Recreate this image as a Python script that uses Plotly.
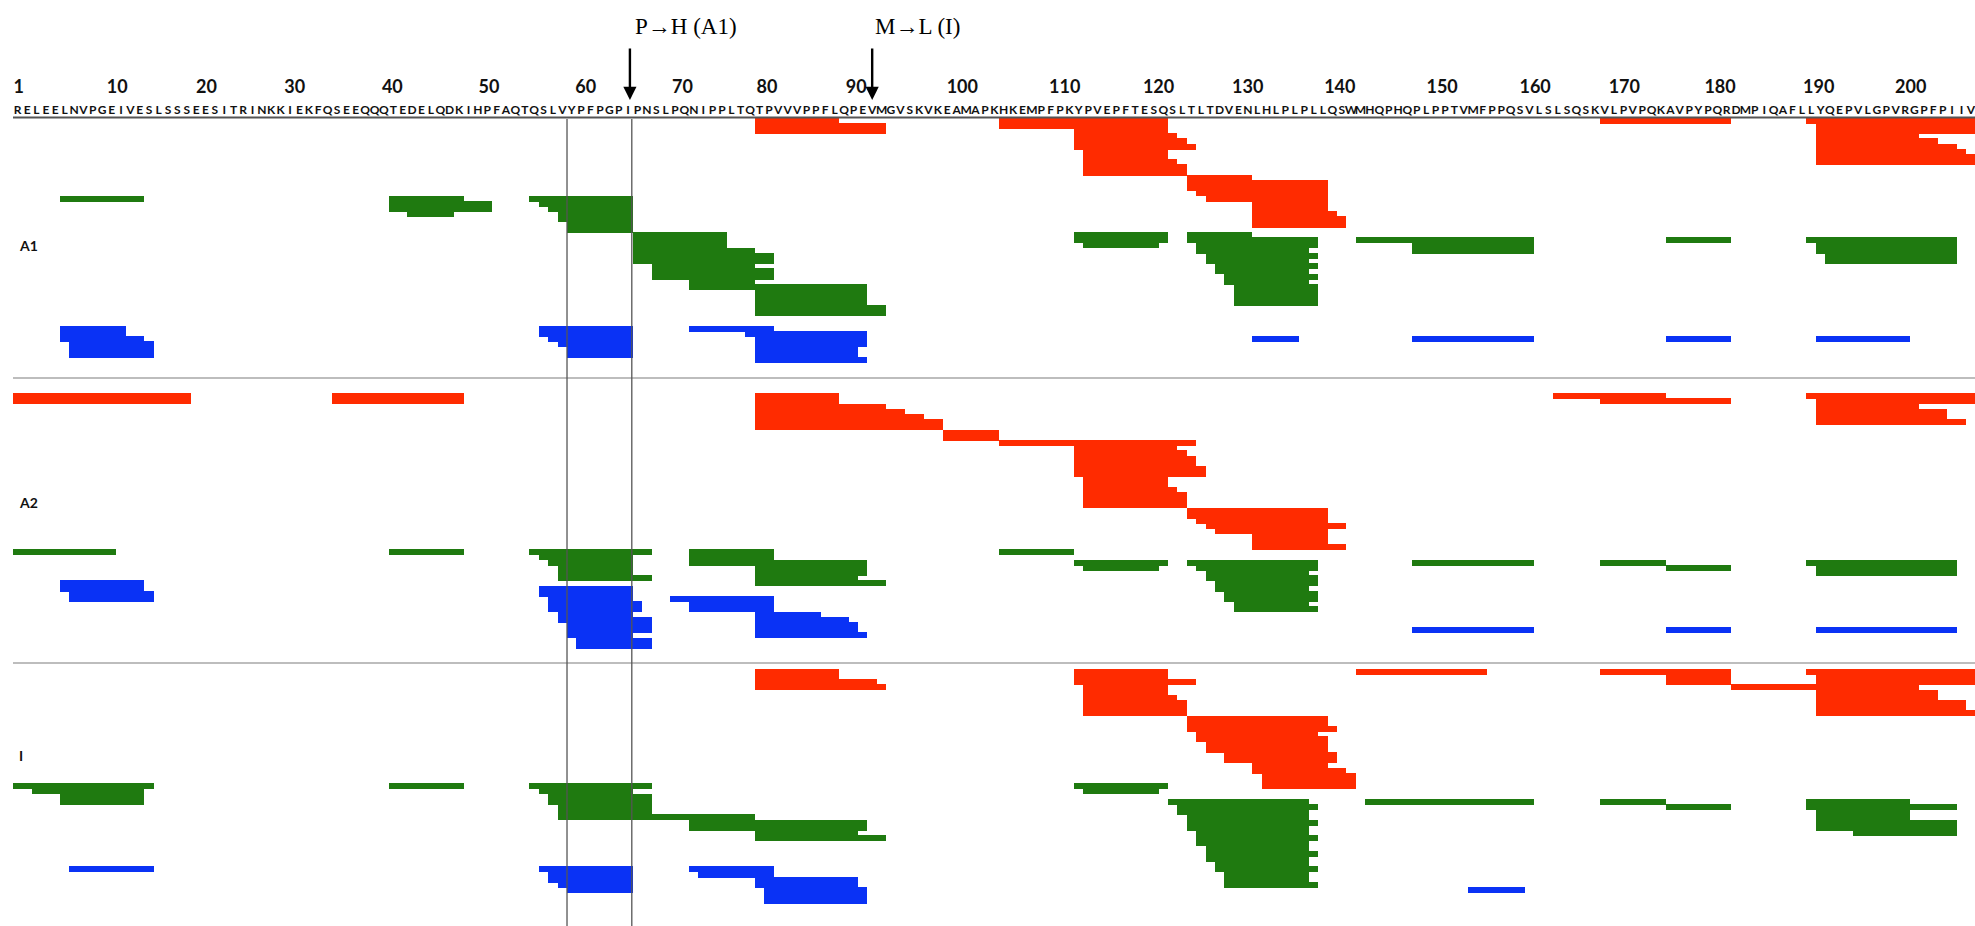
import plotly.graph_objects as go

# ---------------- data ----------------
SEQUENCE = ("RELEELNVPGEIVESLSSSEESITRINKKIEKFQSEEQQQTEDELQDKIHPFAQTQSLVY"
            "PFPGPIPNSLPQNIPPLTQTPVVVPPFLQPEVMGVSKVKEAMAPKHKEMPFPKYPVEPFT"
            "ESQSLTLTDVENLHLPLPLLQSWMHQPHQPLPPTVMFPPQSVLSLSQSKVLPVPQKAVPY"
            "PQRDMPIQAFLLYQEPVLGPVRGPFPIIV")

TICK_LABELS = [1, 10, 20, 30, 40, 50, 60, 70, 80, 90, 100, 110, 120, 130,
               140, 150, 160, 170, 180, 190, 200]
TICK_POS = [1.1, 11.6, 21.1, 30.5, 40.9, 51.2, 61.5, 71.8, 80.8, 90.3, 101.6,
            112.5, 122.5, 132.0, 141.8, 152.7, 162.6, 172.1, 182.3, 192.8, 202.6]

MUTATION_TEXT = ["P<b>\u2192</b>H (A1)", "M<b>\u2192</b>L (I)"]
MUTATION_RESIDUE = [67, 93]

PANELS = ["A1", "A2", "I"]

# peptides: (start residue, end residue, track row)
A1_RED = [
    (80, 88, 0), (80, 93, 1), (80, 93, 2),
    (106, 123, 0), (106, 123, 1),
    (114, 123, 2), (114, 124, 3), (114, 125, 4), (114, 126, 5),
    (115, 123, 6), (115, 123, 7), (115, 124, 8), (115, 125, 9), (115, 125, 10),
    (126, 132, 11), (126, 140, 12), (126, 140, 13), (127, 140, 14), (128, 140, 15),
    (133, 140, 16), (133, 140, 17), (133, 141, 18), (133, 142, 19), (133, 142, 20),
    (170, 183, 0),
    (192, 209, 0), (193, 209, 1), (193, 209, 2), (193, 203, 3), (193, 205, 4),
    (193, 207, 5), (193, 208, 6), (193, 209, 7), (193, 209, 8),
]
A1_GREEN = [
    (6, 14, 15),
    (41, 48, 15), (41, 51, 16), (41, 51, 17), (43, 47, 18),
    (56, 66, 15), (57, 66, 16), (58, 66, 17), (59, 66, 18), (59, 66, 19),
    (60, 66, 20), (60, 66, 21),
    (67, 76, 22), (67, 76, 23), (67, 76, 24), (67, 79, 25), (67, 81, 26), (67, 81, 27),
    (69, 79, 28), (69, 81, 29), (69, 81, 30), (73, 79, 31), (73, 91, 32),
    (80, 91, 33), (80, 91, 34), (80, 91, 35), (80, 93, 36), (80, 93, 37),
    (114, 123, 22), (114, 123, 23), (115, 122, 24),
    (126, 132, 22), (126, 139, 23), (127, 139, 24), (127, 138, 25), (128, 139, 26),
    (128, 138, 27), (129, 139, 28), (129, 138, 29), (130, 139, 30), (130, 138, 31),
    (131, 139, 32), (131, 139, 33), (131, 139, 34), (131, 139, 35),
    (144, 162, 23), (150, 162, 24), (150, 162, 25),
    (177, 183, 23),
    (192, 207, 23), (193, 207, 24), (193, 207, 25), (194, 207, 26), (194, 207, 27),
]
A1_BLUE = [
    (6, 12, 40), (6, 12, 41), (6, 14, 42), (7, 15, 43), (7, 15, 44), (7, 15, 45),
    (57, 66, 40), (57, 66, 41), (58, 66, 42), (59, 66, 43), (60, 66, 44), (60, 66, 45),
    (73, 81, 40), (79, 91, 41), (80, 91, 42), (80, 91, 43), (80, 90, 44),
    (80, 90, 45), (80, 91, 46),
    (133, 137, 42), (150, 162, 42), (177, 183, 42), (193, 202, 42),
]

A2_RED = [
    (1, 19, 53), (1, 19, 54), (35, 48, 53), (35, 48, 54),
    (80, 88, 53), (80, 88, 54), (80, 93, 55), (80, 95, 56), (80, 97, 57),
    (80, 99, 58), (80, 99, 59), (100, 105, 60), (100, 105, 61), (106, 126, 62),
    (114, 124, 63), (114, 125, 64), (114, 126, 65), (114, 126, 66), (114, 127, 67),
    (114, 127, 68), (115, 123, 69), (115, 123, 70), (115, 124, 71), (115, 125, 72),
    (115, 125, 73), (115, 125, 74),
    (126, 140, 75), (126, 140, 76), (127, 140, 77), (128, 142, 78), (129, 140, 79),
    (133, 140, 80), (133, 140, 81), (133, 142, 82),
    (165, 176, 53), (170, 183, 54),
    (192, 209, 53), (193, 209, 54), (193, 203, 55), (193, 206, 56), (193, 206, 57),
    (193, 208, 58),
]
A2_GREEN = [
    (1, 11, 83), (41, 48, 83),
    (56, 68, 83), (57, 66, 84), (58, 66, 85), (59, 66, 86), (59, 66, 87), (59, 68, 88),
    (73, 81, 83), (73, 81, 84), (73, 81, 85), (80, 91, 85), (80, 91, 86), (80, 91, 87),
    (80, 90, 88), (80, 93, 89),
    (106, 113, 83), (114, 123, 85), (115, 122, 86),
    (126, 139, 85), (127, 139, 86), (128, 138, 87), (128, 139, 88), (129, 139, 89),
    (129, 138, 90), (130, 139, 91), (130, 139, 92), (131, 138, 93), (131, 139, 94),
    (150, 162, 85), (170, 176, 85), (177, 183, 86),
    (192, 207, 85), (193, 207, 86), (193, 207, 87),
]
A2_BLUE = [
    (6, 14, 89), (6, 14, 90), (7, 15, 91), (7, 15, 92),
    (57, 66, 90), (57, 66, 91), (58, 66, 92), (58, 67, 93), (58, 67, 94), (59, 66, 95),
    (59, 68, 96), (60, 68, 97), (60, 68, 98), (60, 66, 99), (61, 68, 100), (61, 68, 101),
    (71, 81, 92), (73, 81, 93), (73, 81, 94), (80, 86, 95), (80, 89, 96),
    (80, 90, 97), (80, 90, 98), (80, 91, 99),
    (150, 162, 98), (177, 183, 98), (193, 207, 98),
]

I_RED = [
    (80, 88, 106), (80, 88, 107), (80, 92, 108), (80, 93, 109),
    (114, 123, 106), (114, 123, 107), (114, 126, 108), (115, 123, 109), (115, 123, 110),
    (115, 124, 111), (115, 125, 112), (115, 125, 113), (115, 125, 114),
    (126, 140, 115), (126, 140, 116), (126, 141, 117), (127, 139, 118), (127, 140, 119),
    (128, 140, 120), (128, 140, 121), (130, 141, 122), (130, 141, 123), (133, 140, 124),
    (133, 142, 125), (134, 143, 126), (134, 143, 127), (134, 143, 128),
    (144, 157, 106),
    (170, 183, 106), (177, 183, 107), (177, 183, 108), (184, 192, 109),
    (192, 209, 106), (193, 209, 107), (193, 209, 108), (193, 203, 109), (193, 205, 110),
    (193, 205, 111), (193, 208, 112), (193, 208, 113), (193, 209, 114),
]
I_GREEN = [
    (1, 15, 128), (3, 14, 129), (6, 14, 130), (6, 14, 131),
    (41, 48, 128),
    (56, 68, 128), (57, 66, 129), (58, 68, 130), (58, 68, 131), (59, 68, 132),
    (59, 68, 133), (59, 79, 134), (73, 91, 135), (73, 91, 136), (80, 90, 137),
    (80, 93, 138),
    (114, 123, 128), (115, 122, 129),
    (124, 138, 131), (125, 139, 132), (125, 138, 133), (126, 138, 134), (126, 139, 135),
    (126, 138, 136), (127, 138, 137), (127, 139, 138), (127, 138, 139), (128, 138, 140),
    (128, 139, 141), (128, 138, 142), (129, 138, 143), (129, 139, 144), (130, 138, 145),
    (130, 138, 146), (130, 139, 147),
    (145, 162, 131), (170, 176, 131), (177, 183, 132),
    (192, 202, 131), (192, 207, 132), (193, 202, 133), (193, 202, 134),
    (193, 207, 135), (193, 207, 136), (197, 207, 137),
]
I_BLUE = [
    (7, 15, 144),
    (57, 66, 144), (58, 66, 145), (58, 66, 146), (59, 66, 147), (60, 66, 148),
    (73, 81, 144), (74, 81, 145), (80, 90, 146), (80, 90, 147), (81, 91, 148),
    (81, 91, 149), (81, 91, 150),
    (156, 161, 148),
]

PANEL_LABEL_ROW = [24.6, 74.0, 122.6]
SEPARATOR_ROWS = [50.0, 104.8]
MARKER_BOUNDS = [59.5, 66.4]
ARROW_X = [66.2, 92.0]
MUT_TEXT_X = [72.2, 96.8]

# ---------------- styling / geometry ----------------
W, H = 1975, 926
PX0, PXW = 8.3, 9.39          # pixel = PX0 + PXW * residue
Y0, RH = 118.0, 5.2           # pixel = Y0 + RH * row
RED, GREEN, BLUE = "#FF2B00", "#1F7A10", "#0A32F5"
BAR_W = 1.15

x_range = [(0 - PX0) / PXW, (W - PX0) / PXW]
y_range = [(H - Y0) / RH, (0 - Y0) / RH]


def row_of(px):
    return (px - Y0) / RH


fig = go.Figure()


def add_peps(peps, color):
    fig.add_trace(go.Bar(
        orientation="h",
        y=[r + 0.5 for s, e, r in peps],
        x=[e - s + 1 for s, e, r in peps],
        base=[s - 0.5 for s, e, r in peps],
        width=BAR_W,
        marker=dict(color=color, line=dict(width=0)),
        hoverinfo="skip",
        showlegend=False,
    ))


for peps, col in [(A1_RED, RED), (A1_GREEN, GREEN), (A1_BLUE, BLUE),
                  (A2_RED, RED), (A2_GREEN, GREEN), (A2_BLUE, BLUE),
                  (I_RED, RED), (I_GREEN, GREEN), (I_BLUE, BLUE)]:
    add_peps(peps, col)

# sequence letters
fig.add_trace(go.Scatter(
    x=list(range(1, len(SEQUENCE) + 1)),
    y=[row_of(111)] * len(SEQUENCE),
    mode="text", text=list(SEQUENCE),
    textfont=dict(family="Lato", size=12, color="#111111", weight="bold"),
    hoverinfo="skip", showlegend=False,
))
# residue numbers
fig.add_trace(go.Scatter(
    x=TICK_POS, y=[row_of(88)] * len(TICK_POS),
    mode="text", text=[str(t) for t in TICK_LABELS],
    textfont=dict(family="Lato", size=18, color="#111111", weight="bold"),
    hoverinfo="skip", showlegend=False,
))

shapes = []
# underline under the sequence
shapes.append(dict(type="line", xref="x", yref="y", x0=0.5, x1=x_range[1],
                   y0=row_of(117.5), y1=row_of(117.5),
                   line=dict(color="#555555", width=2)))
# panel separators
for r in SEPARATOR_ROWS:
    shapes.append(dict(type="line", xref="x", yref="y", x0=0.5, x1=x_range[1],
                       y0=r, y1=r, line=dict(color="#BDBDBD", width=2)))
# vertical marker lines
for xb in MARKER_BOUNDS:
    shapes.append(dict(type="line", xref="x", yref="y", x0=xb, x1=xb,
                       y0=row_of(119), y1=y_range[0],
                       line=dict(color="#555555", width=1.3)))

annotations = []
for txt, xt in zip(MUTATION_TEXT, MUT_TEXT_X):
    annotations.append(dict(x=xt, y=1 - 26 / H, xref="x", yref="paper",
                            text=txt, showarrow=False, xanchor="center", yanchor="middle",
                            font=dict(family="Liberation Serif", size=23, color="black")))
for xa in ARROW_X:
    annotations.append(dict(x=xa, y=row_of(100), xref="x", yref="y", text="",
                            showarrow=True, ax=0, ay=-53, arrowhead=2, arrowsize=1.1,
                            arrowwidth=2.4, arrowcolor="black"))
for lab, r in zip(PANELS, PANEL_LABEL_ROW):
    annotations.append(dict(x=(17 - PX0) / PXW, y=r, xref="x", yref="y", text=lab,
                            showarrow=False, xanchor="left", yanchor="middle",
                            font=dict(family="Lato", size=14, color="#111111", weight="bold")))

fig.update_layout(
    width=W, height=H,
    margin=dict(l=0, r=0, t=0, b=0),
    paper_bgcolor="white", plot_bgcolor="white",
    barmode="overlay", bargap=0,
    xaxis=dict(range=x_range, visible=False, fixedrange=True),
    yaxis=dict(range=y_range, visible=False, fixedrange=True),
    shapes=shapes, annotations=annotations,
    showlegend=False,
)

fig.write_html(
    "out.html",
    config={"displayModeBar": False, "staticPlot": False},
    post_script="document.body.style.margin='0';document.body.style.padding='0';"
                "document.body.style.overflow='hidden';",
)
